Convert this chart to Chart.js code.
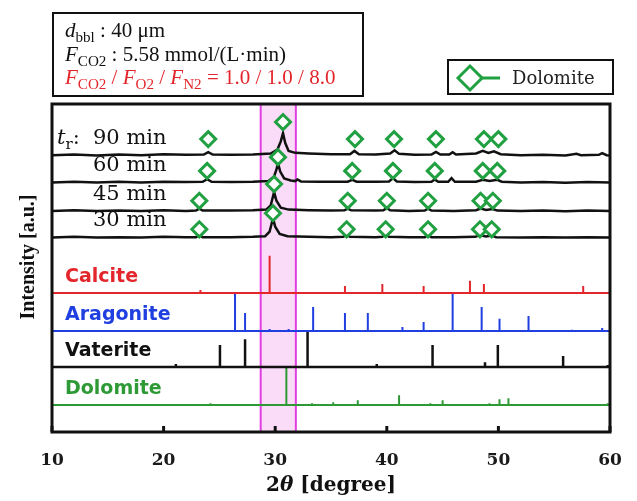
<!DOCTYPE html>
<html>
<head>
<meta charset="utf-8">
<script src="https://cdn.jsdelivr.net/npm/chart.js@4/dist/chart.umd.min.js"></script>
<style>
  html, body { margin: 0; padding: 0; background: #fff; }
  #wrap { width: 637px; height: 501px; }
</style>
</head>
<body>
<div id="wrap"><canvas id="xrd" width="637" height="501"></canvas></div>
<script>
// 2theta range and tick labels
const xRange = [10, 60];
const xTicks = [10, 20, 30, 40, 50, 60];
const bandRange = [28.7, 31.85];

// stacking offsets (a.u.)
const offsets = { m90: 84.1, m60: 75.9, m45: 67.1, m30: 59.1, calcite: 42.4, aragonite: 30.8, vaterite: 19.8, dolomite: 8.2 };

// measured patterns [2theta, intensity above baseline]
const pattern90 = [[10,0.3],[12,0.5],[14,0.2],[16,0.5],[18,0.3],[20,0.6],[22,0.4],[23.6,0.5],[24.0,1.2],[24.4,0.5],[26,0.4],[28,0.5],[29.6,0.8],[30.2,2.0],[30.5,4.5],[30.7,7.0],[30.9,4.0],[31.2,1.6],[31.8,1.0],[33,0.8],[35,0.6],[36.7,0.6],[37.1,1.6],[37.5,0.6],[39,0.5],[40.3,0.8],[40.7,1.8],[41.1,0.7],[42.5,0.4],[44.0,0.5],[44.4,1.3],[44.8,0.5],[45.6,0.5],[45.9,1.2],[46.2,0.5],[48,0.8],[48.6,1.6],[49.1,1.0],[49.6,1.5],[50.2,0.6],[52,0.3],[54,0.4],[56,0.2],[57.0,0.7],[57.4,0.3],[59.0,0.4],[59.3,0.9],[59.7,0.3],[60,0.2]];
const pattern60 = [[10,0.2],[12,0.4],[14,0.2],[16,0.4],[18,0.2],[20,0.4],[22,0.3],[23.5,0.4],[23.9,1.2],[24.3,0.4],[26,0.3],[28,0.4],[29.4,0.6],[29.9,2.0],[30.1,4.0],[30.25,6.1],[30.45,3.5],[30.8,1.4],[31.4,0.8],[31.8,0.6],[32.0,1.1],[32.3,0.5],[34,0.4],[36.5,0.4],[36.9,1.0],[37.3,0.4],[39,0.4],[40.2,0.5],[40.55,1.5],[40.9,0.5],[42.5,0.3],[44.0,0.4],[44.3,1.1],[44.6,0.4],[45.5,0.4],[45.8,1.5],[46.1,0.4],[48,0.4],[48.6,1.0],[49.2,0.6],[49.9,1.0],[50.3,0.4],[52,0.2],[54,0.3],[56,0.1],[58,0.3],[60,0.2]];
const pattern45 = [[10,0.3],[12,0.5],[14,0.3],[16,0.4],[18,0.3],[20,0.5],[22,0.3],[22.9,0.4],[23.2,1.0],[23.5,0.4],[26,0.4],[28,0.5],[29.2,0.7],[29.6,2.0],[29.75,4.0],[29.9,6.1],[30.1,3.5],[30.5,1.3],[31.2,0.7],[33,0.5],[35,0.4],[36.2,0.5],[36.5,1.0],[36.8,0.5],[39,0.4],[39.7,0.5],[40.0,1.2],[40.3,0.5],[42,0.3],[43.4,0.4],[43.7,1.0],[44.0,0.4],[46,0.3],[48.0,0.5],[48.4,1.0],[48.9,0.6],[49.5,0.9],[49.9,0.4],[52,0.3],[54,0.4],[56,0.2],[58,0.4],[60,0.3]];
const pattern30 = [[10,0.2],[12,0.4],[14,0.2],[16,0.3],[18,0.2],[20,0.4],[22,0.3],[22.9,0.3],[23.2,0.9],[23.5,0.3],[26,0.3],[28,0.4],[29.1,0.6],[29.5,2.0],[29.65,4.0],[29.8,6.1],[30.0,3.5],[30.4,1.3],[31.1,0.6],[33,0.4],[35,0.3],[36.1,0.4],[36.4,1.0],[36.7,0.4],[39,0.3],[39.6,0.4],[39.9,1.1],[40.2,0.4],[42,0.3],[43.4,0.3],[43.7,0.9],[44.0,0.3],[46,0.3],[47.9,0.4],[48.35,0.9],[48.9,0.5],[49.4,0.8],[49.8,0.3],[52,0.2],[54,0.3],[56,0.2],[58,0.3],[60,0.2]];

// dolomite markers [2theta, height above baseline]
const marks90 = [[24.0,5.2],[30.7,10.4],[37.15,5.2],[40.65,5.2],[44.4,5.2],[48.7,5.2],[50.0,5.2]];
const marks60 = [[23.9,3.7],[30.25,7.9],[36.9,3.7],[40.55,3.7],[44.3,3.7],[48.6,3.7],[49.9,3.7]];
const marks45 = [[23.2,3.4],[29.9,8.5],[36.5,3.4],[40.0,3.4],[43.7,3.4],[48.4,3.4],[49.5,3.4]];
const marks30 = [[23.2,2.7],[29.8,7.6],[36.4,2.7],[39.9,2.7],[43.7,2.7],[48.35,2.7],[49.4,2.7]];

// reference patterns [2theta, relative height]
const calcite = [[23.3,0.9],[29.5,11.3],[36.25,2.1],[39.6,2.7],[43.3,2.1],[47.45,3.7],[48.7,2.7],[57.6,2.1]];
const aragonite = [[26.4,11.6],[27.3,5.5],[29.5,0.6],[31.2,0.6],[33.4,7.3],[36.25,5.5],[38.3,5.5],[41.4,1.2],[43.3,2.7],[45.9,11.6],[48.5,7.3],[50.1,3.7],[52.7,4.6],[56.6,0.4],[59.3,0.9]];
const vaterite = [[21.1,0.9],[25.05,6.7],[27.3,8.5],[32.9,11.0],[39.1,0.9],[44.1,6.7],[48.8,1.5],[49.95,6.7],[55.8,3.4],[59.8,0.6]];
const dolomite = [[22.2,0.3],[24.2,0.6],[31.0,11.3],[33.3,0.6],[35.2,0.9],[37.4,1.5],[41.1,3.0],[43.9,0.6],[45.0,1.5],[49.2,0.6],[50.1,1.8],[50.9,2.1],[58.9,0.3],[59.8,0.6]];

const sampleLabels = ['90 min', '60 min', '45 min', '30 min'];
const refNames = ['Calcite', 'Aragonite', 'Vaterite', 'Dolomite'];

const RED = '#e3262b';
const BLUE = '#1f3fe0';
const GREEN = '#2e9a35';
const MARK = '#20a040';

function shifted(points, off) {
  return points.map(p => ({ x: p[0], y: p[1] + off }));
}

function sticks(list, off) {
  let out = [{ x: xRange[0], y: off }];
  list.forEach(p => {
    out.push({ x: p[0], y: off });
    out.push({ x: p[0], y: off + p[1] });
    out.push({ x: p[0], y: off });
  });
  out.push({ x: xRange[1], y: off });
  return out;
}

const lineSet = (data, color, w) => ({
  data: data, showLine: true, borderColor: color, borderWidth: w,
  pointRadius: 0, fill: false, tension: 0
});

const markSet = (list, off) => ({
  data: shifted(list, off), showLine: false, pointStyle: 'rectRot',
  pointRadius: 7.5, borderColor: MARK, backgroundColor: '#fff', borderWidth: 3
});

function drawRich(ctx, x, y, parts, size, color, family) {
  let cx = x;
  parts.forEach(p => {
    const fs = p.sub ? size * 0.72 : size;
    ctx.font = (p.it ? 'italic ' : '') + fs + 'px ' + (family || '"Liberation Serif"');
    ctx.fillStyle = color;
    ctx.fillText(p.t, cx, p.sub ? y + size * 0.25 : y);
    cx += ctx.measureText(p.t).width;
  });
}

const decor = {
  id: 'decor',
  beforeDatasetsDraw(chart) {
    const { ctx, chartArea: a, scales: { x } } = chart;
    const x0 = x.getPixelForValue(bandRange[0]);
    const x1 = x.getPixelForValue(bandRange[1]);
    ctx.save();
    ctx.fillStyle = '#fbdcf8';
    ctx.fillRect(x0, a.top, x1 - x0, a.bottom - a.top);
    ctx.strokeStyle = '#e040e0';
    ctx.lineWidth = 2;
    ctx.beginPath();
    ctx.moveTo(x0, a.top); ctx.lineTo(x0, a.bottom);
    ctx.moveTo(x1, a.top); ctx.lineTo(x1, a.bottom);
    ctx.stroke();
    ctx.restore();
  },
  afterDraw(chart) {
    const { ctx, chartArea: a, scales: { x, y } } = chart;
    ctx.save();
    // frame + inward ticks
    ctx.strokeStyle = '#111';
    ctx.lineWidth = 3;
    ctx.strokeRect(a.left, a.top, a.right - a.left, a.bottom - a.top);
    xTicks.forEach(t => {
      const px = x.getPixelForValue(t);
      ctx.beginPath();
      ctx.moveTo(px, a.bottom);
      ctx.lineTo(px, a.bottom - 6);
      ctx.stroke();
    });

    // sample labels
    ctx.textBaseline = 'alphabetic';
    const sOff = [offsets.m90, offsets.m60, offsets.m45, offsets.m30];
    sampleLabels.forEach((s, i) => {
      const py = y.getPixelForValue(sOff[i]) - 12;
      ctx.font = '21px "DejaVu Serif"';
      ctx.fillStyle = '#111';
      ctx.fillText(s, 93, py);
    });
    drawRich(ctx, 57, y.getPixelForValue(offsets.m90) - 12,
      [{ t: 't', it: true }, { t: 'r', sub: true }, { t: ':' }], 21, '#111', '"DejaVu Serif"');

    // reference labels
    const rOff = [offsets.calcite, offsets.aragonite, offsets.vaterite, offsets.dolomite];
    const rCol = [RED, BLUE, '#111', GREEN];
    ctx.font = 'bold 19px "DejaVu Sans"';
    ctx.textBaseline = 'middle';
    refNames.forEach((n, i) => {
      ctx.fillStyle = rCol[i];
      ctx.fillText(n, 65, y.getPixelForValue(rOff[i]) - 16);
    });

    // condition box
    ctx.lineWidth = 2;
    ctx.strokeStyle = '#111';
    ctx.strokeRect(53, 13, 310, 83);
    ctx.textBaseline = 'alphabetic';
    drawRich(ctx, 65, 37, [{ t: 'd', it: true }, { t: 'bbl', sub: true }, { t: ' : 40 μm' }], 21, '#111');
    drawRich(ctx, 65, 61, [{ t: 'F', it: true }, { t: 'CO2', sub: true }, { t: ' : 5.58 mmol/(L·min)' }], 21, '#111');
    drawRich(ctx, 65, 84, [{ t: 'F', it: true }, { t: 'CO2', sub: true }, { t: ' / ' }, { t: 'F', it: true }, { t: 'O2', sub: true },
      { t: ' / ' }, { t: 'F', it: true }, { t: 'N2', sub: true }, { t: ' = 1.0 / 1.0 / 8.0' }], 21, RED);

    // legend box
    ctx.strokeRect(448, 60, 165, 34);
    ctx.strokeStyle = MARK;
    ctx.lineWidth = 3;
    ctx.beginPath();
    ctx.moveTo(470, 78); ctx.lineTo(500, 78);
    ctx.stroke();
    ctx.fillStyle = '#fff';
    ctx.beginPath();
    ctx.moveTo(458, 78); ctx.lineTo(470, 66); ctx.lineTo(482, 78); ctx.lineTo(470, 90); ctx.closePath();
    ctx.fill(); ctx.stroke();
    ctx.fillStyle = '#222';
    ctx.font = '18px "DejaVu Serif"';
    ctx.textBaseline = 'middle';
    ctx.fillText('Dolomite', 512, 79);

    // axis titles
    ctx.fillStyle = '#111';
    ctx.textBaseline = 'alphabetic';
    const parts = [{ t: '2', f: 'bold 20px "DejaVu Serif"' }, { t: 'θ', f: 'italic bold 20px "DejaVu Serif"' }, { t: ' [degree]', f: 'bold 20px "DejaVu Serif"' }];
    let tw = 0;
    parts.forEach(p => { ctx.font = p.f; tw += ctx.measureText(p.t).width; });
    let cx = 331 - tw / 2;
    parts.forEach(p => { ctx.font = p.f; ctx.fillText(p.t, cx, 491); cx += ctx.measureText(p.t).width; });

    ctx.translate(29, 257);
    ctx.rotate(-Math.PI / 2);
    ctx.font = 'bold 20px "Liberation Serif"';
    ctx.textAlign = 'center';
    ctx.textBaseline = 'middle';
    ctx.fillText('Intensity [a.u.]', 0, 0);
    ctx.restore();
  }
};

new Chart(document.getElementById('xrd'), {
  type: 'scatter',
  data: {
    datasets: [
      markSet(marks90, offsets.m90),
      markSet(marks60, offsets.m60),
      markSet(marks45, offsets.m45),
      markSet(marks30, offsets.m30),
      lineSet(shifted(pattern90, offsets.m90), '#111', 2.5),
      lineSet(shifted(pattern60, offsets.m60), '#111', 2.5),
      lineSet(shifted(pattern45, offsets.m45), '#111', 2.5),
      lineSet(shifted(pattern30, offsets.m30), '#111', 2.5),
      lineSet(sticks(calcite, offsets.calcite), RED, 2),
      lineSet(sticks(aragonite, offsets.aragonite), BLUE, 2),
      lineSet(sticks(vaterite, offsets.vaterite), '#111', 2.5),
      lineSet(sticks(dolomite, offsets.dolomite), GREEN, 2)
    ]
  },
  options: {
    responsive: false,
    animation: false,
    layout: { padding: { left: 52, right: 27, top: 104, bottom: 0 } },
    plugins: { legend: { display: false }, tooltip: { enabled: false } },
    scales: {
      x: {
        type: 'linear', min: xRange[0], max: xRange[1],
        afterBuildTicks: s => { s.ticks = xTicks.map(v => ({ value: v })); },
        afterFit: s => { s.height = 69; },
        grid: { display: false },
        border: { display: false },
        ticks: { color: '#1a1a1a', padding: 10, maxRotation: 0, font: { family: 'DejaVu Serif', size: 17, weight: 'bold' } }
      },
      y: { display: false, min: 0, max: 100 }
    }
  },
  plugins: [decor]
});
</script>
</body>
</html>
